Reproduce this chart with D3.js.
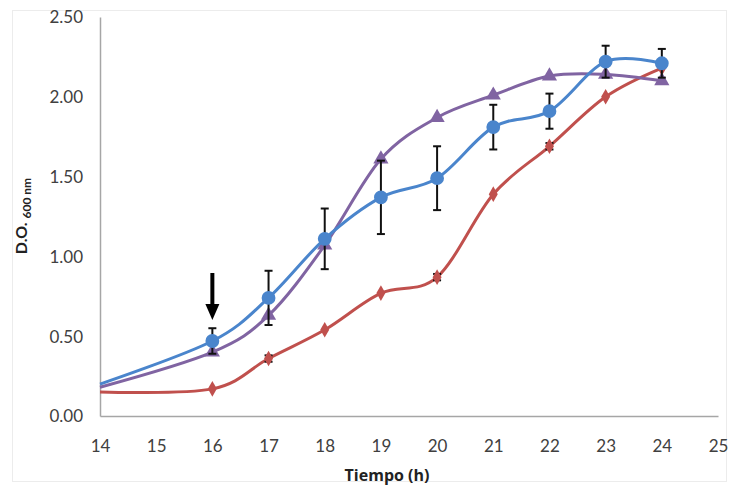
<!DOCTYPE html>
<html>
<head>
<meta charset="utf-8">
<script src="https://cdn.jsdelivr.net/npm/d3@7"></script>
<style>
  body { margin: 0; background: #fff; }
  svg { display: block; }
  .tick text { font-family: Lato, "Open Sans", sans-serif; font-size: 17px; fill: #404040; }
</style>
</head>
<body>
<div id="chart"></div>
<script>
// hours of culture
const hours = [14, 16, 17, 18, 19, 20, 21, 22, 23, 24];

// optical density, three cultures
const blue      = [0.20, 0.47, 0.74, 1.11, 1.37, 1.49, 1.81, 1.91, 2.22, 2.21];
const blueErr   = [0, 0.08, 0.17, 0.19, 0.23, 0.20, 0.14, 0.11, 0.10, 0.09];
const purple    = [0.18, 0.40, 0.63, 1.07, 1.61, 1.87, 2.01, 2.13, 2.14, 2.10];
const purpleErr = [0, 0, 0, 0, 0, 0, 0, 0, 0, 0];
const red       = [0.15, 0.17, 0.36, 0.54, 0.77, 0.87, 1.39, 1.69, 2.00, 2.18];
const redErr    = [0, 0, 0.02, 0, 0, 0.02, 0, 0.02, 0, 0];

const xTicks = [14, 15, 16, 17, 18, 19, 20, 21, 22, 23, 24, 25];
const yTicks = [0, 0.5, 1.0, 1.5, 2.0, 2.5];
const arrowHour = 16;

const width = 732, height = 487;
const svg = d3.select("#chart").append("svg")
    .attr("width", width)
    .attr("height", height);

// faint chart border
svg.append("rect")
    .attr("x", 12.5).attr("y", 10.5)
    .attr("width", 714).attr("height", 471)
    .attr("fill", "none")
    .attr("stroke", "#ececec");

const x = d3.scaleLinear().domain([14, 25]).range([100, 718]);
const y = d3.scaleLinear().domain([0, 2.5]).range([416, 17]);

// axes
const xAxis = svg.append("g")
    .attr("transform", `translate(0,${y(0)})`)
    .call(d3.axisBottom(x).tickValues(xTicks).tickFormat(d3.format("d")).tickSize(0).tickPadding(24));
const yAxis = svg.append("g")
    .attr("transform", `translate(${x(14)},0)`)
    .call(d3.axisLeft(y).tickValues(yTicks).tickFormat(d3.format(".2f")).tickSize(0).tickPadding(17));
[xAxis, yAxis].forEach(g => {
    g.select(".domain").attr("stroke", "#a6a6a6").attr("stroke-width", 1.5);
});
yAxis.selectAll(".tick text").attr("dy", "0.35em");

// axis titles
svg.append("text")
    .attr("x", 387).attr("y", 481)
    .attr("text-anchor", "middle")
    .style("font-family", "'Open Sans', Lato, sans-serif")
    .style("font-weight", "bold")
    .style("font-size", "16px")
    .attr("fill", "#222")
    .text("Tiempo (h)");

const yTitle = svg.append("text")
    .attr("transform", "translate(27,216) rotate(-90)")
    .attr("text-anchor", "middle")
    .style("font-family", "Lato, 'Open Sans', sans-serif")
    .attr("fill", "#222");
yTitle.append("tspan").style("font-weight", "bold").style("font-size", "16px").text("D.O. ");
yTitle.append("tspan").style("font-weight", "bold").style("font-size", "12px").attr("dy", 4).text("600 nm");

const series = [
    { values: red,    err: redErr,    color: "#c0504d", marker: d3.symbolDiamond,  size: 70 },
    { values: purple, err: purpleErr, color: "#8064a2", marker: d3.symbolTriangle, size: 100 },
    { values: blue,   err: blueErr,   color: "#4a85cc", marker: d3.symbolCircle,   size: 150 }
];

const line = d3.line()
    .x(d => x(d.h))
    .y(d => y(d.v))
    .curve(d3.curveCardinal.tension(0));

series.forEach(s => {
    const pts = hours.map((h, i) => ({ h: h, v: s.values[i], e: s.err[i], i: i }));
    svg.append("path")
        .datum(pts)
        .attr("d", line)
        .attr("fill", "none")
        .attr("stroke", s.color)
        .attr("stroke-width", 3);

    const withErr = pts.filter(d => d.e > 0);
    const eb = svg.append("g").attr("stroke", "#111").attr("stroke-width", 2);
    eb.selectAll("line.v").data(withErr).enter().append("line")
        .attr("x1", d => x(d.h)).attr("x2", d => x(d.h))
        .attr("y1", d => y(d.v + d.e)).attr("y2", d => y(d.v - d.e));
    eb.selectAll("line.t").data(withErr).enter().append("line")
        .attr("x1", d => x(d.h) - 4).attr("x2", d => x(d.h) + 4)
        .attr("y1", d => y(d.v + d.e)).attr("y2", d => y(d.v + d.e));
    eb.selectAll("line.b").data(withErr).enter().append("line")
        .attr("x1", d => x(d.h) - 4).attr("x2", d => x(d.h) + 4)
        .attr("y1", d => y(d.v - d.e)).attr("y2", d => y(d.v - d.e));

    svg.append("g").selectAll("path")
        .data(pts.filter(d => d.i > 0))
        .enter().append("path")
        .attr("transform", d => `translate(${x(d.h)},${y(d.v)})`)
        .attr("d", d3.symbol().type(s.marker).size(s.size))
        .attr("fill", s.color);
});

// arrow marking the 16 h point
const ax = x(arrowHour);
svg.append("line")
    .attr("x1", ax).attr("x2", ax)
    .attr("y1", 273).attr("y2", 306)
    .attr("stroke", "#000").attr("stroke-width", 4);
svg.append("path")
    .attr("d", `M${ax - 7},304 L${ax + 7},304 L${ax},320 Z`)
    .attr("fill", "#000");
</script>
</body>
</html>
